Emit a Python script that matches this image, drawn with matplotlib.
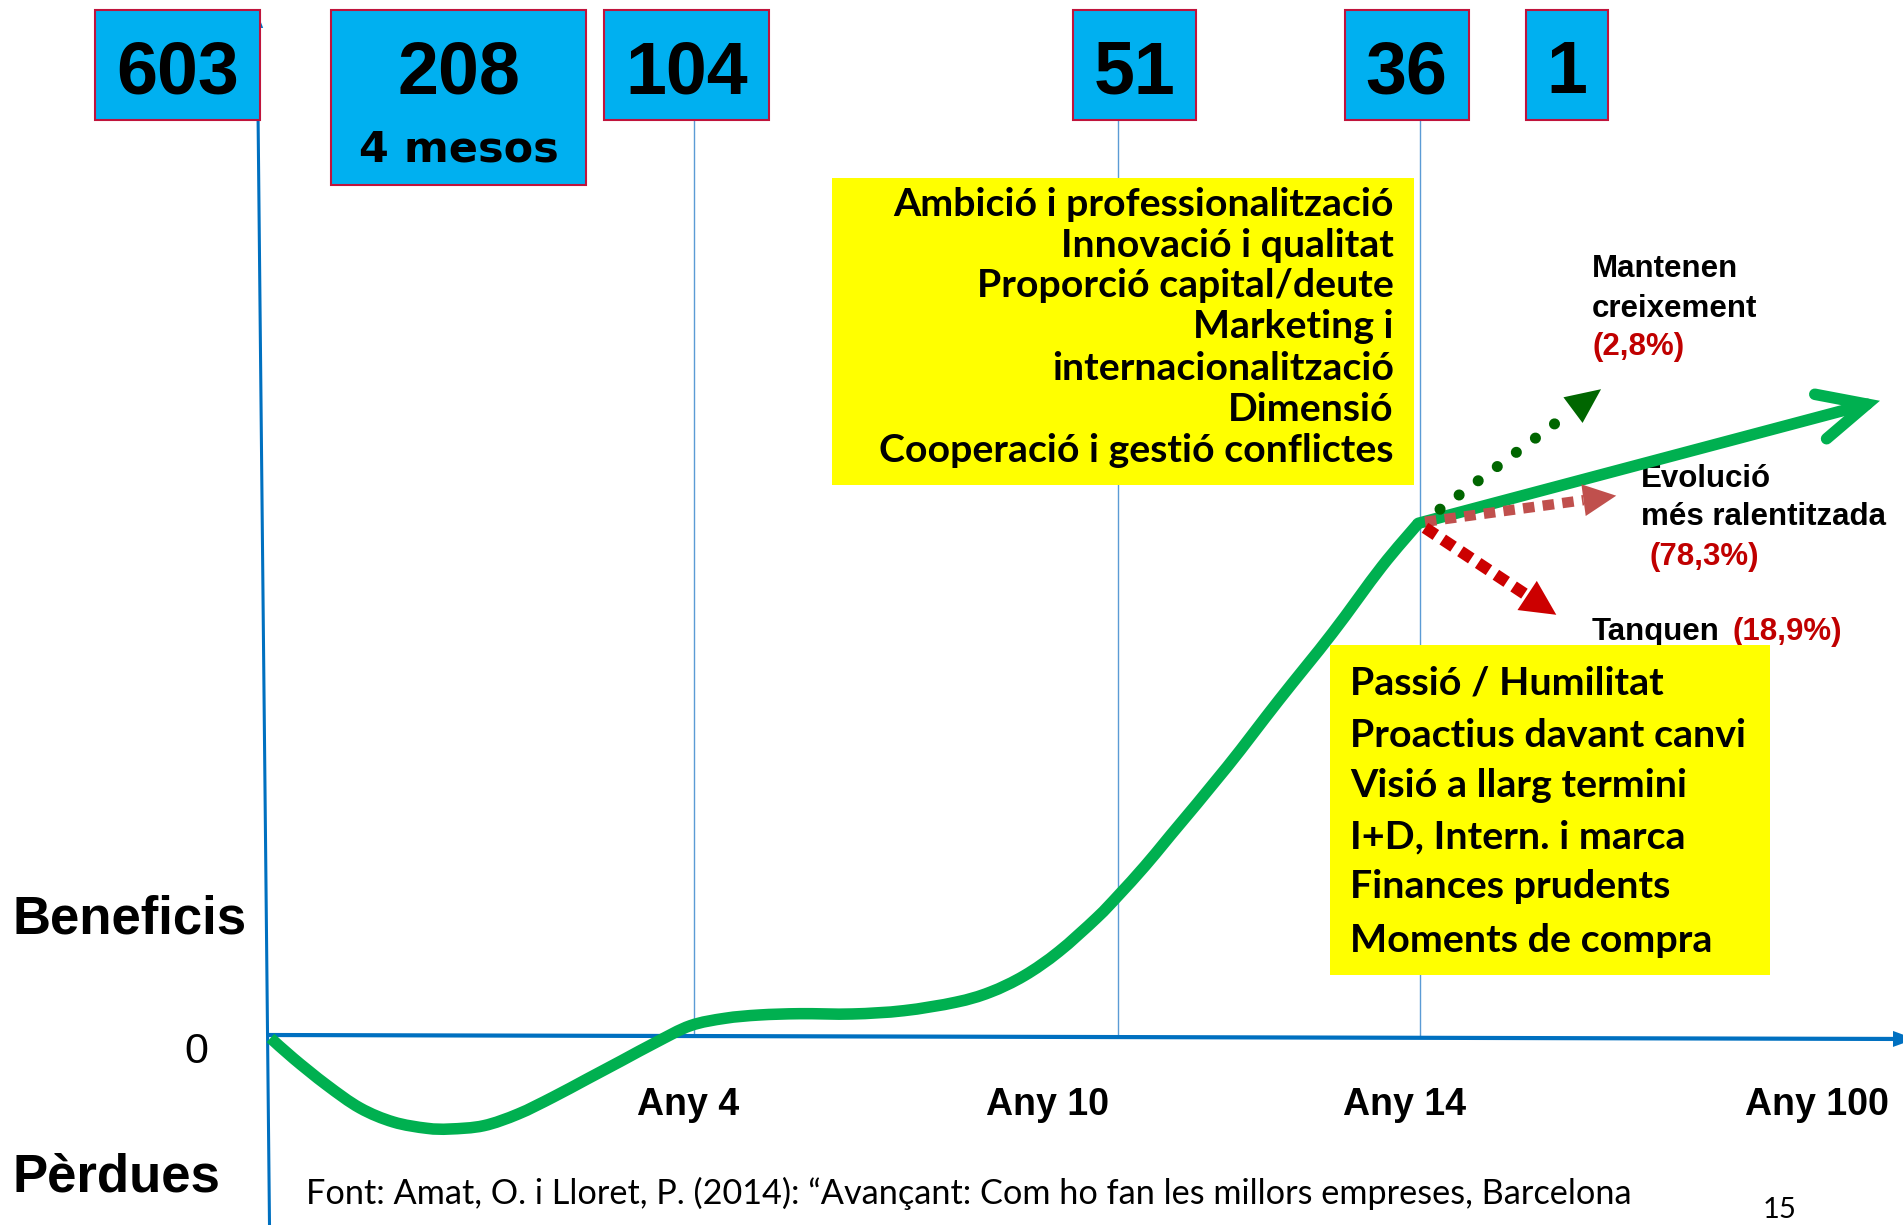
import matplotlib
matplotlib.use("Agg")
import matplotlib.pyplot as plt
from matplotlib.patches import Rectangle, Polygon, PathPatch
from matplotlib.path import Path
import numpy as np

# ---------------- data ----------------
# life-cycle profit curve (x: time scale, y: profit, 0 = break-even)
curve_x = [0.03, 1.43, 3.47, 5.51, 7.55, 9.6, 11.02, 13.09, 15.2, 17.31, 19.42,
           21.53, 23.64, 25.74, 27.86, 29.96, 32.46, 35.65, 38.81, 41.98, 44.08,
           46.19, 48.3, 50.62, 51.95, 53.58, 55.16, 58.62, 61.79, 65.05, 68.08, 70.32]
curve_y = [-0.33, -3.72, -8.17, -12.0, -14.33, -15.38, -15.5, -14.95, -13.0, -10.22,
           -7.17, -4.12, -1.05, 1.72, 2.95, 3.5, 3.72, 3.67, 4.22, 5.62, 7.28,
           10.05, 14.05, 19.67, 23.42, 28.33, 33.5, 44.88, 56.0, 67.12, 78.22, 85.45]
trend_end = (97.8, 105.3)

milestone_x = [25.96, 51.95, 70.45]
tick_labels = ["Any 4", "Any 10", "Any 14", "Any 100"]
tick_x = [25.6, 47.6, 69.5, 94.7]

company_counts = ["603", "208", "104", "51", "36", "1"]
count_sub = {"208": "4 mesos"}

branch_lines1 = ["Mantenen", "Evolució", "Tanquen"]
branch_lines2 = ["creixement", "més ralentitzada", ""]
branch_pct = ["(2,8%)", "(78,3%)", "(18,9%)"]
branch_start = [(71.65, 87.8), (70.73, 85.7), (70.73, 84.7)]
branch_end = [(81.51, 107.8), (82.44, 90.05), (78.77, 70.2)]

factors_top = ["Ambició i professionalització", "Innovació i qualitat",
               "Proporció capital/deute", "Marketing i",
               "internacionalització", "Dimensió",
               "Cooperació i gestió conflictes"]
factors_bottom = ["Passió / Humilitat", "Proactius davant canvi",
                  "Visió a llarg termini", "I+D, Intern. i marca",
                  "Finances prudents", "Moments de compra"]

source = "Font: Amat, O. i Lloret, P. (2014): \u201cAvançant: Com ho fan les millors empreses, Barcelona"
page_no = "15"

# ---------------- layout ----------------
W, H = 1903, 1225
OX, OY, SX, SY = 270.0, 1036.0, 16.33, 6.0   # pixel origin / pixel per unit

fig = plt.figure(figsize=(W / 100, H / 100), dpi=100)
ax = fig.add_axes([0, 0, 1, 1])
ax.set_xlim(-OX / SX, (W - OX) / SX)
ax.set_ylim(-(H - OY) / SY, OY / SY)
ax.axis("off")


def P(px, py):
    return ((px - OX) / SX, (OY - py) / SY)


ARIAL = "Liberation Sans"
CAL = "Lato"

GREEN = "#00b050"
BLUE = "#0070c0"
VLINE = "#5b9bd5"
BOXC = "#00b0f0"
BOXE = "#c0143c"
YEL = "#ffff00"
DRED = "#c00000"

# milestone vertical lines
for mx in milestone_x:
    ax.plot([mx, mx], [P(0, 120)[1], 0], color=VLINE, lw=1.0, zorder=1)


def head(tip, direction_from, length_px, halfw_px, color, z):
    t = ax.transData.transform(tip)
    s = ax.transData.transform(direction_from)
    d = t - s
    u = d / np.hypot(*d)
    n = np.array([-u[1], u[0]])
    base = t - u * length_px
    pts = [t, base + n * halfw_px, base - n * halfw_px]
    pts = ax.transData.inverted().transform(np.array(pts))
    ax.add_patch(Polygon(pts, closed=True, facecolor=color, edgecolor="none", zorder=z))
    return ax.transData.inverted().transform(base)


# axes lines
x0, y0 = P(267, 1035)
x1, y1 = P(1912, 1039)
ax.plot([x0, x1], [y0, y1], color=BLUE, lw=3.0, zorder=2, solid_capstyle="butt")
head(P(1915, 1039), (x0, y0), 22, 8, BLUE, 2)
ya, yb = P(269.5, 1225), P(257, 14)
ax.plot([ya[0], yb[0]], [ya[1], yb[1]], color=BLUE, lw=2.2, zorder=2)
head(P(257, 12), ya, 16, 6, BLUE, 2)

# main curve, drawn as a smooth path through the read points
pts = ax.transData.transform(np.column_stack([curve_x, curve_y]))
verts = [pts[0]]
codes = [Path.MOVETO]
for i in range(len(pts) - 1):
    p0 = pts[i - 1] if i > 0 else pts[i]
    p1, p2 = pts[i], pts[i + 1]
    p3 = pts[i + 2] if i + 2 < len(pts) else pts[i + 1]
    c1 = p1 + (p2 - p0) / 6.0
    c2 = p2 - (p3 - p1) / 6.0
    verts += [c1, c2, p2]
    codes += [Path.CURVE4] * 3
verts = ax.transData.inverted().transform(np.array(verts))
ax.add_patch(PathPatch(Path(verts, codes), facecolor="none", edgecolor=GREEN,
                       lw=8.3, zorder=4, capstyle="butt", joinstyle="round"))
ax.plot([curve_x[-1], trend_end[0]], [curve_y[-1], trend_end[1]], color=GREEN,
        lw=8.3, zorder=4, solid_capstyle="round")
# open arrow head
t = ax.transData.transform(trend_end)
s = ax.transData.transform((curve_x[-1], curve_y[-1]))
u = (t - s) / np.hypot(*(t - s))
n = np.array([-u[1], u[0]])
arm = np.array([t - u * 48 + n * 23, t, t - u * 48 - n * 23])
arm = ax.transData.inverted().transform(arm)
ax.plot(arm[:, 0], arm[:, 1], color=GREEN, lw=8.3, zorder=4,
        solid_capstyle="round", solid_joinstyle="miter")

# branch arrows
branch_style = [
    dict(color="#006600", lw=8, ls=(0, (0.001, 2.14)), cap="round", hl=35, hw=16),
    dict(color="#c0504d", lw=7.5, ls=(0, (1.1, 0.8)), cap="butt", hl=33, hw=16),
    dict(color="#cc0000", lw=8.5, ls=(0, (1.1, 0.7)), cap="butt", hl=35, hw=17.5),
]
for st, en, sty in zip(branch_start, branch_end, branch_style):
    base = head(en, st, sty["hl"], sty["hw"], sty["color"], 5)
    ax.plot([st[0], base[0]], [st[1], base[1]], color=sty["color"], lw=sty["lw"],
            linestyle=sty["ls"], dash_capstyle=sty["cap"], zorder=4.5)


# yellow boxes
def rect(px0, py0, px1, py1, fc, ec="none", lw=0, z=5):
    a = P(px0, py1)
    b = P(px1, py0)
    ax.add_patch(Rectangle(a, b[0] - a[0], b[1] - a[1], facecolor=fc, edgecolor=ec,
                           lw=lw, zorder=z))


rect(832, 178, 1414, 485, YEL, z=3)
rect(1330, 645, 1770, 975, YEL, z=5)

renderer = fig.canvas.get_renderer()


def fit(txt, target):
    w = txt.get_window_extent(renderer).width
    return txt.get_fontsize() * target / w


top_base = [216, 256.7, 297, 338.3, 380, 420.7, 461.7]
tt = []
for s_, b in zip(factors_top, top_base):
    tt.append(ax.text(*P(1394, b), s_, ha="right", va="baseline", fontsize=28,
                      fontweight="bold", family=CAL, zorder=6))
fs = (fit(tt[0], 502.6) + fit(tt[-1], 510.2)) / 2
for t_ in tt:
    t_.set_fontsize(fs)

bot_base = [695, 746.7, 796.7, 848.3, 898.3, 951.7]
bt = []
for s_, b in zip(factors_bottom, bot_base):
    bt.append(ax.text(*P(1350, b), s_, ha="left", va="baseline", fontsize=28,
                      fontweight="bold", family=CAL, zorder=6))
fs = (fit(bt[1], 394) + fit(bt[5], 364.6)) / 2
for t_ in bt:
    t_.set_fontsize(fs)

# company count boxes
boxes = [(94.7, 259.7), (331.3, 586.2), (603.6, 769.4), (1072.6, 1196.3),
         (1344.9, 1468.6), (1526, 1607.6)]
for lab, (bx0, bx1) in zip(company_counts, boxes):
    bottom = 185 if lab in count_sub else 120.5
    rect(bx0, 10.5, bx1, bottom, BOXC, ec=BOXE, lw=1.5, z=7)
    cx = (bx0 + bx1) / 2
    ax.text(*P(cx, 93.5), lab, ha="center", va="baseline", fontsize=53,
            fontweight="bold", family=ARIAL, zorder=8)
    if lab in count_sub:
        ax.text(*P(cx, 162), count_sub[lab], ha="center", va="baseline",
                fontsize=31, fontweight="bold", family="DejaVu Sans", zorder=8)

# branch labels
lab_pos = [(1591.7, 277.3, 317.3, 1592.7, 355),
           (1641, 486.7, 525, 1649.8, 565),
           (1591.6, 640, None, 1732.7, 640)]
for l1, l2, pct, (lx, b1, b2, px_, pb) in zip(branch_lines1, branch_lines2, branch_pct, lab_pos):
    ax.text(*P(lx, b1), l1, ha="left", va="baseline", fontsize=22.5,
            fontweight="bold", family=ARIAL, zorder=3)
    if l2:
        ax.text(*P(lx, b2), l2, ha="left", va="baseline", fontsize=22.5,
                fontweight="bold", family=ARIAL, zorder=3)
    ax.text(*P(px_, pb), pct, ha="left", va="baseline", fontsize=22.5,
            fontweight="bold", family=ARIAL, color=DRED, zorder=3)

# axis texts
ax.text(*P(12, 933), "Beneficis", ha="left", va="baseline", fontsize=38,
        fontweight="bold", family=ARIAL)
ax.text(*P(12, 1192), "Pèrdues", ha="left", va="baseline", fontsize=38,
        fontweight="bold", family=ARIAL)
ax.text(*P(196.6, 1063), "0", ha="center", va="baseline", fontsize=31, family=ARIAL)

for lab, tx in zip(tick_labels, tick_x):
    ax.text(tx, P(0, 1115)[1], lab, ha="center", va="baseline", fontsize=27,
            fontweight="bold", family=ARIAL)

ft = ax.text(*P(305.8, 1204), source, ha="left", va="baseline", fontsize=25,
             family=CAL)
ft.set_fontsize(fit(ft, 1328))
ax.text(*P(1780, 1218), page_no, ha="center", va="baseline", fontsize=21, family=CAL)

fig.savefig("out.png", dpi=100, facecolor="white")
